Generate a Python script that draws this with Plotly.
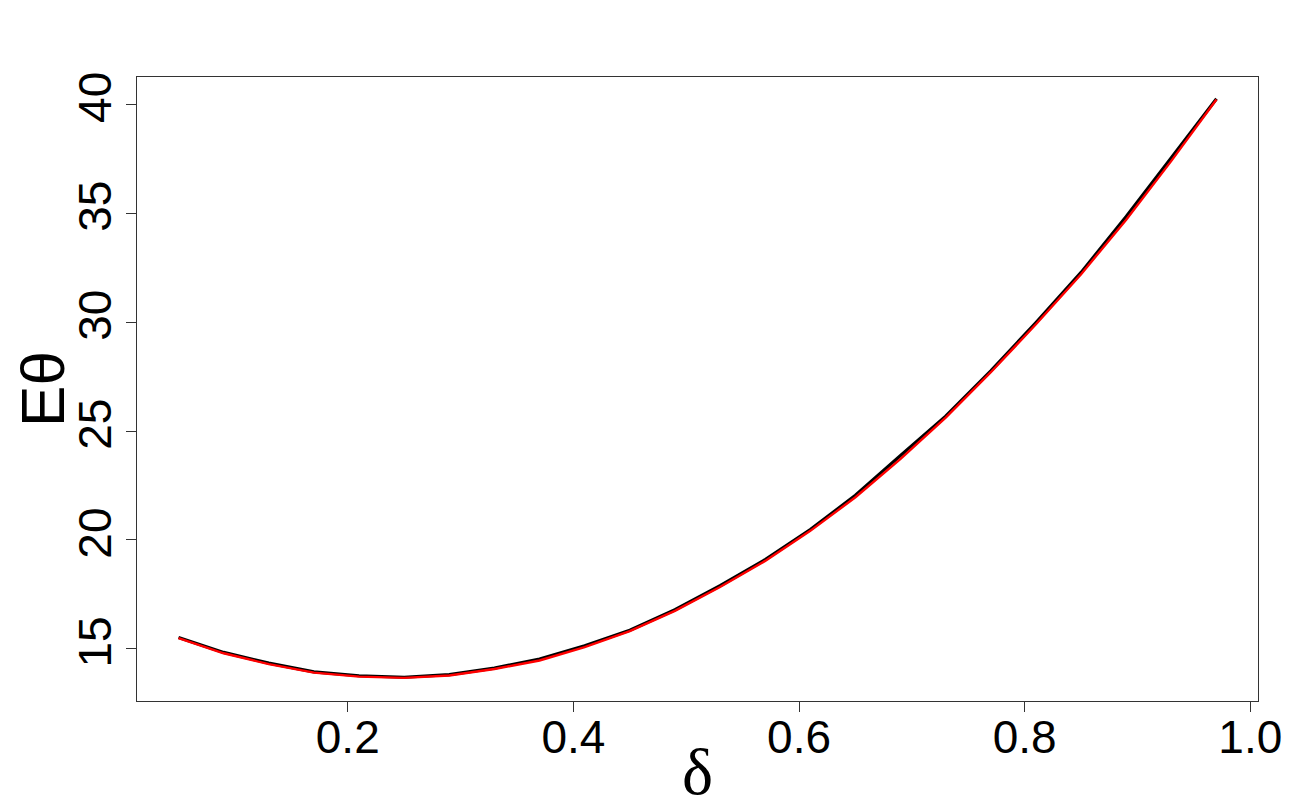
import plotly.graph_objects as go

delta = [0.05, 0.09, 0.13, 0.17, 0.21, 0.25, 0.29, 0.33, 0.37, 0.41, 0.45, 0.49,
         0.53, 0.57, 0.61, 0.65, 0.69, 0.73, 0.77, 0.81, 0.85, 0.89, 0.93, 0.97]
e_theta_black = [15.52, 14.84, 14.35, 13.95, 13.77, 13.70, 13.82, 14.12, 14.54, 15.15,
                 15.86, 16.80, 17.90, 19.10, 20.48, 22.05, 23.88, 25.68, 27.76, 29.98,
                 32.28, 34.85, 37.55, 40.25]
e_theta_red = [15.50, 14.80, 14.30, 13.91, 13.73, 13.67, 13.78, 14.08, 14.47, 15.08,
               15.82, 16.75, 17.84, 19.04, 20.42, 21.96, 23.72, 25.62, 27.70, 29.90,
               32.20, 34.70, 37.40, 40.22]
x_ticks = [0.2, 0.4, 0.6, 0.8, 1.0]
x_tick_labels = ["0.2", "0.4", "0.6", "0.8", "1.0"]
y_ticks = [15, 20, 25, 30, 35, 40]
y_tick_labels = ["15", "20", "25", "30", "35", "40"]

fig = go.Figure()
fig.add_trace(go.Scatter(x=delta, y=e_theta_black, mode="lines",
                         line=dict(color="black", width=3.2), showlegend=False))
fig.add_trace(go.Scatter(x=delta, y=e_theta_red, mode="lines",
                         line=dict(color="#ff0000", width=2.4), showlegend=False))

axis_font = dict(family="Liberation Sans, Arial, sans-serif", size=46, color="black")

fig.update_layout(
    width=1300, height=800,
    paper_bgcolor="white", plot_bgcolor="white",
    margin=dict(l=129, r=50, t=69, b=107),
    xaxis=dict(
        range=[0.0132, 1.0068], automargin=False,
        tickmode="array", tickvals=x_ticks, ticktext=x_tick_labels,
        ticks="outside", ticklen=10, tickwidth=1, tickcolor="#333",
        showline=True, linecolor="#333", linewidth=1.2, mirror=True,
        showgrid=False, zeroline=False,
        tickfont=axis_font, ticklabelstandoff=-14,
        title=dict(text="δ", font=dict(family="Liberation Serif, Times New Roman, serif",
                                       size=66, color="black"), standoff=0),
    ),
    yaxis=dict(
        range=[12.61, 41.25], automargin=False,
        tickmode="array", tickvals=y_ticks, ticktext=y_tick_labels,
        ticks="outside", ticklen=10, tickwidth=1, tickcolor="#333",
        showline=True, linecolor="#333", linewidth=1.2, mirror=True,
        showgrid=False, zeroline=False,
        tickfont=axis_font, tickangle=-90, ticklabelstandoff=-3,
        title=dict(text="Eθ", font=dict(family="Liberation Sans, Arial, sans-serif",
                                        size=62, color="black"), standoff=6),
    ),
)

fig.write_html("out.html")
